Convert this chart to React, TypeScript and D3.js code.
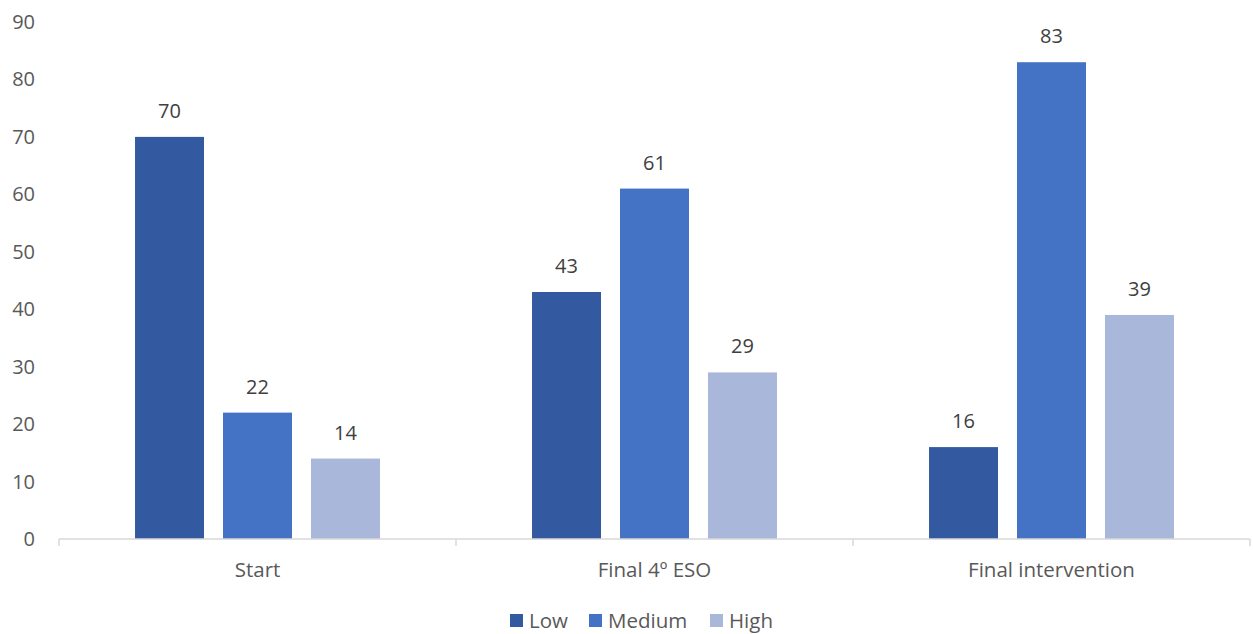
import React from 'react';
import * as d3 from 'd3';

const categories = ['Start', 'Final 4º ESO', 'Final intervention'];
const seriesNames = ['Low', 'Medium', 'High'];
const lowValues = [70, 43, 16];
const mediumValues = [22, 61, 83];
const highValues = [14, 29, 39];
const yTicks = [0, 10, 20, 30, 40, 50, 60, 70, 80, 90];
const colors = ['#335AA1', '#4472C4', '#A9B7DB'];

const width = 1253;
const height = 634;
const margin = { left: 59, right: 3, top: 22, bottom: 95 };
const font = '"Open Sans", Lato, sans-serif';

export default function App() {
  const values = [lowValues, mediumValues, highValues];

  const x0 = d3.scaleBand<string>()
    .domain(categories)
    .range([margin.left, width - margin.right])
    .padding(0);

  const x1 = d3.scaleBand<string>()
    .domain(seriesNames)
    .range([0, x0.bandwidth()])
    .paddingInner(0.216)
    .paddingOuter(0.864);

  const y = d3.scaleLinear()
    .domain([0, 90])
    .range([height - margin.bottom, margin.top]);

  const baseY = y(0);
  const boundaries = [...categories.map(c => x0(c)!), x0.range()[1]];

  // legend layout
  const legendX = [510, 589, 710];

  return (
    <svg width={width} height={height} style={{ position: 'absolute', left: 0, top: 0, background: '#fff' }}>
      {/* y tick labels */}
      {yTicks.map(t => (
        <text key={t} x={35} y={y(t)} dy="0.35em" textAnchor="end"
          fontFamily={font} fontSize={20} fill="#595959">{t}</text>
      ))}

      {/* bars */}
      {categories.map((c, ci) => (
        <g key={c} transform={`translate(${x0(c)},0)`}>
          {seriesNames.map((s, si) => {
            const v = values[si][ci];
            const bx = x1(s)!;
            return (
              <g key={s}>
                <rect x={bx} y={y(v)} width={x1.bandwidth()} height={baseY - y(v)} fill={colors[si]} />
                <text x={bx + x1.bandwidth() / 2} y={y(v) - 19} textAnchor="middle"
                  fontFamily={font} fontSize={20} fill="#404040">{v}</text>
              </g>
            );
          })}
        </g>
      ))}

      {/* x axis */}
      <line x1={x0.range()[0]} x2={x0.range()[1]} y1={baseY} y2={baseY} stroke="#D9D9D9" strokeWidth={1.5} />
      {boundaries.map((b, i) => (
        <line key={i} x1={b} x2={b} y1={baseY} y2={baseY + 7} stroke="#D9D9D9" strokeWidth={1.5} />
      ))}
      {categories.map(c => (
        <text key={c} x={x0(c)! + x0.bandwidth() / 2} y={577} textAnchor="middle"
          fontFamily={font} fontSize={20.5} fill="#595959">{c}</text>
      ))}

      {/* legend */}
      {seriesNames.map((s, i) => (
        <g key={s} transform={`translate(${legendX[i]},614)`}>
          <rect x={0} y={0} width={13} height={13} fill={colors[i]} />
          <text x={19} y={6.5} dy="0.36em" fontFamily={font} fontSize={20.5} fill="#595959">{s}</text>
        </g>
      ))}
    </svg>
  );
}
